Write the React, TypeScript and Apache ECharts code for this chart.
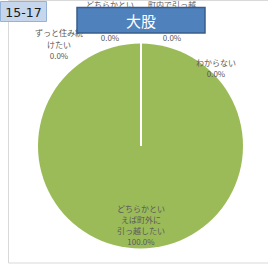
import React, { useEffect, useRef } from "react";
import * as echarts from "echarts";

const categories = [
  "ずっと住み続けたい",
  "どちらかといえば住み続けたい",
  "町内で引っ越したい",
  "どちらかといえば町外に引っ越したい",
  "わからない",
];
const labelLines = [
  "ずっと住み続\nけたい",
  "どちらかとい\nえば住み続\nけたい",
  "町内で引っ越\nしたい\n",
  "どちらかとい\nえば町外に\n引っ越したい",
  "わからない",
];
const values = [0, 0, 0, 100, 0];
const title = "大股";
const tag = "15-17";

const labelPos = [
  [59, 44],
  [110, 21],
  [172, 21],
  [141, 225],
  [216, 68],
];

const CX = 140.5;
const CY = 146;
const R = 102.5;
const FONT = '"Noto Sans CJK JP", "Noto Sans", sans-serif';

export default function App() {
  const ref = useRef<HTMLDivElement>(null);
  useEffect(() => {
    if (!ref.current) return;
    const chart = echarts.init(ref.current, null, { renderer: "svg" });
    const total = values.reduce((a, b) => a + b, 0);
    chart.setOption({
      animation: false,
      backgroundColor: "#ffffff",
      series: [
        {
          type: "pie",
          center: [CX, CY],
          radius: [0, R],
          startAngle: 90,
          clockwise: true,
          stillShowZeroSum: true,
          minShowLabelAngle: 0,
          avoidLabelOverlap: false,
          itemStyle: { color: "#9BBB59" },
          emphasis: { disabled: true },
          labelLine: { show: false },
          label: {
            show: true,
            position: "inside",
            fontFamily: FONT,
            fontSize: 8,
            lineHeight: 11.2,
            color: "#595959",
            align: "center",
            formatter: (p: any) =>
              `${labelLines[p.dataIndex]}\n${((p.value / total) * 100).toFixed(1)}%`,
          },
          labelLayout: (p: any) => ({
            x: labelPos[p.dataIndex][0],
            y: labelPos[p.dataIndex][1],
            align: "center",
            verticalAlign: "middle",
          }),
          data: categories.map((c, i) => ({ name: c, value: values[i] })),
        },
      ],
      graphic: [
        {
          type: "rect",
          z: 1,
          silent: true,
          shape: { x: 8.5, y: 0.5, width: 270, height: 262.5 },
          style: { fill: "none", stroke: "#d9d9d9", lineWidth: 1 },
        },
        {
          type: "line",
          z: 50,
          silent: true,
          shape: { x1: CX + 0.5, y1: CY, x2: CX + 0.5, y2: CY - R - 1 },
          style: { stroke: "#ffffff", lineWidth: 2 },
        },
        {
          type: "rect",
          z: 100,
          silent: true,
          shape: { x: 0.5, y: 1.5, width: 46, height: 20 },
          style: { fill: "#C6D6EC", stroke: "#95B3D7", lineWidth: 1 },
        },
        {
          type: "text",
          z: 101,
          silent: true,
          x: 23.5,
          y: 12,
          style: {
            text: tag,
            fontFamily: '"DejaVu Sans", sans-serif',
            fontSize: 12.5,
            fill: "#1a1a1a",
            align: "center",
            verticalAlign: "middle",
          },
        },
        {
          type: "rect",
          z: 100,
          silent: true,
          shape: { x: 77, y: 7.5, width: 128, height: 25.5 },
          style: { fill: "#4F81BD", stroke: "#385D8A", lineWidth: 1.5 },
        },
        {
          type: "text",
          z: 101,
          silent: true,
          x: 141,
          y: 20.5,
          style: {
            text: title,
            fontFamily: FONT,
            fontSize: 15,
            fill: "#ffffff",
            align: "center",
            verticalAlign: "middle",
          },
        },
      ],
    });
    return () => chart.dispose();
  }, []);
  return (
    <div
      ref={ref}
      style={{ position: "fixed", left: 0, top: 0, width: 268, height: 265 }}
    />
  );
}
